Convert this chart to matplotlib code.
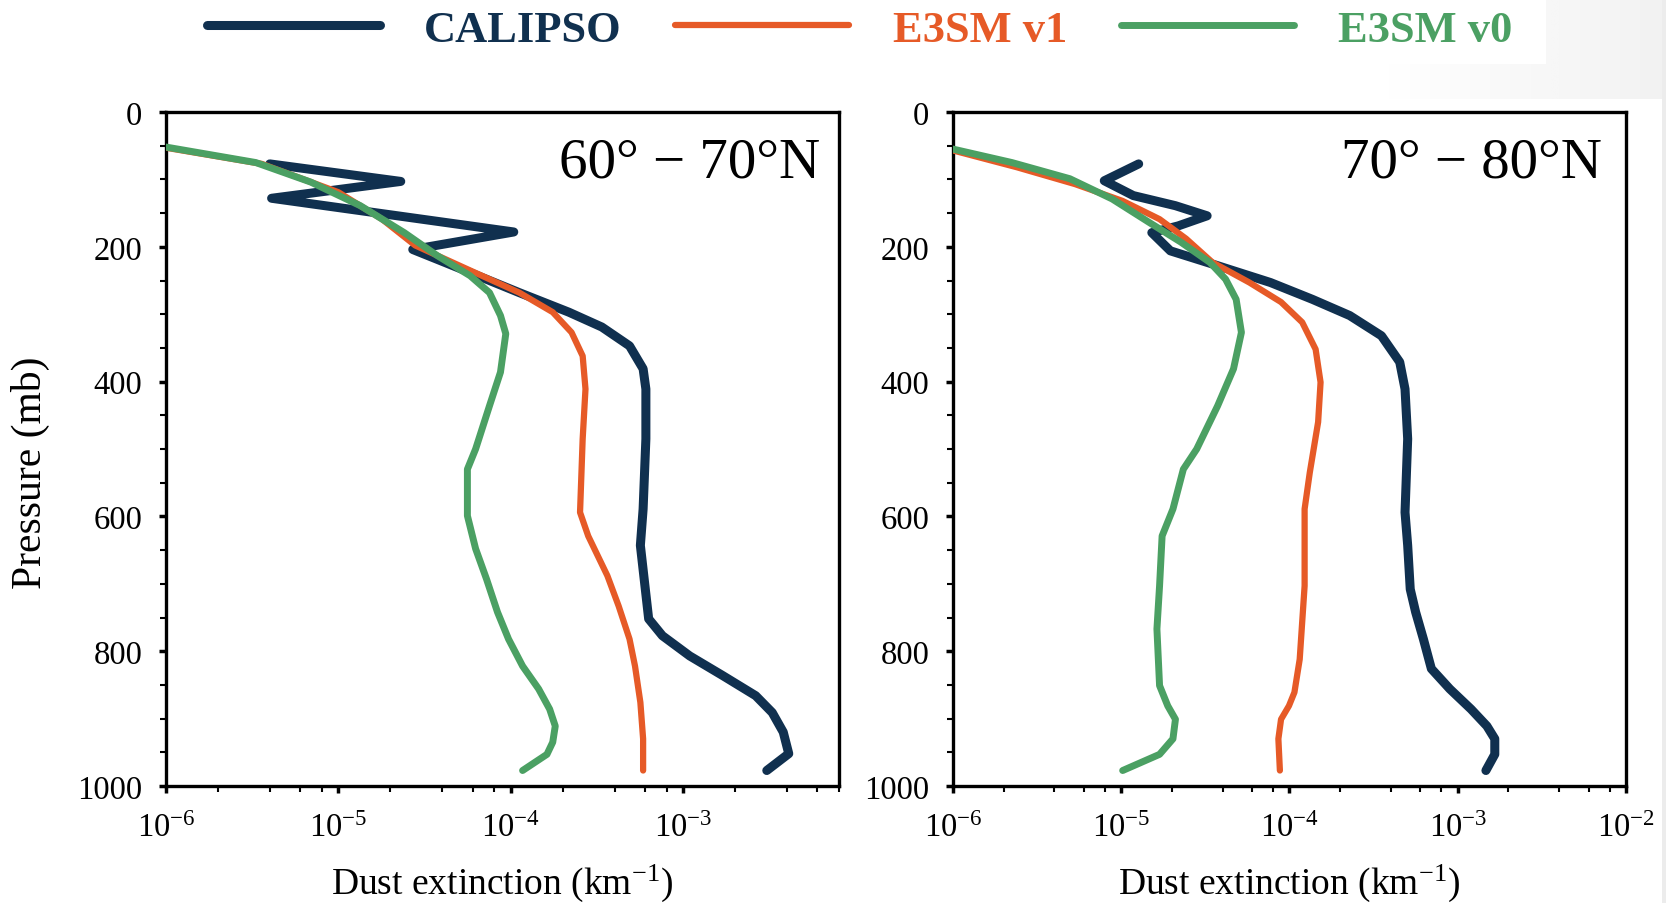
import numpy as np
import matplotlib
matplotlib.use("Agg")
import matplotlib.pyplot as plt
from matplotlib.ticker import LogLocator, MultipleLocator
from matplotlib.patches import Rectangle

plt.rcParams['font.family'] = ['Liberation Serif', 'DejaVu Serif']
plt.rcParams['mathtext.fontset'] = 'custom'
plt.rcParams['mathtext.rm'] = 'Liberation Serif'
plt.rcParams['mathtext.it'] = 'Liberation Serif:italic'
plt.rcParams['mathtext.bf'] = 'Liberation Serif:bold'

# colours
c_cal = '#10304f'
c_v1 = '#e65a27'
c_v0 = '#4ba063'

# ---- 60-70N ----
p_cal_a = [77, 103, 128, 178, 204, 235, 268, 297, 319, 347, 381, 411, 485, 589,
           643, 752, 777, 807, 836, 866, 891, 920, 952, 977]
ext_cal_a = [4.0e-6, 2.3e-5, 4.1e-6, 1.04e-4, 2.7e-5, 5.4e-5, 1.12e-4, 2.17e-4,
             3.37e-4, 4.88e-4, 5.85e-4, 6.07e-4, 6.07e-4, 5.85e-4, 5.64e-4,
             6.30e-4, 7.57e-4, 1.09e-3, 1.69e-3, 2.63e-3, 3.28e-3, 3.80e-3,
             4.09e-3, 3.05e-3]

p_v1_a = [53, 77, 119, 159, 198, 235, 268, 297, 327, 362, 411, 485, 594, 629,
          688, 733, 782, 822, 876, 930, 977]
ext_v1_a = [1.0e-6, 3.6e-6, 1.0e-5, 1.79e-5, 2.79e-5, 5.8e-5, 1.12e-4, 1.75e-4,
            2.25e-4, 2.61e-4, 2.71e-4, 2.61e-4, 2.52e-4, 2.81e-4, 3.63e-4,
            4.22e-4, 4.88e-4, 5.25e-4, 5.64e-4, 5.85e-4, 5.85e-4]

p_v0_a = [52, 75, 104, 139, 179, 213, 243, 268, 302, 329, 386, 436, 500, 530,
          599, 648, 693, 742, 782, 822, 856, 886, 911, 935, 953, 977]
ext_v0_a = [1.0e-6, 3.32e-6, 6.92e-6, 1.34e-5, 2.41e-5, 3.74e-5, 5.81e-5,
            7.52e-5, 8.71e-5, 9.35e-5, 8.71e-5, 7.52e-5, 6.25e-5, 5.60e-5,
            5.60e-5, 6.25e-5, 7.23e-5, 8.37e-5, 9.70e-5, 1.17e-4, 1.45e-4,
            1.68e-4, 1.81e-4, 1.75e-4, 1.62e-4, 1.17e-4]

# ---- 70-80N ----
p_cal_b = [77, 102, 124, 139, 154, 169, 179, 206, 228, 253, 278, 302, 332, 371,
           411, 485, 594, 643, 708, 742, 782, 826, 856, 886, 911, 930, 953, 977]
ext_cal_b = [1.27e-5, 7.93e-6, 1.18e-5, 2.10e-5, 3.24e-5, 2.18e-5, 1.52e-5,
             1.96e-5, 3.74e-5, 7.71e-5, 1.37e-4, 2.28e-4, 3.52e-4, 4.52e-4,
             4.86e-4, 5.04e-4, 4.86e-4, 5.04e-4, 5.22e-4, 5.62e-4, 6.25e-4,
             6.97e-4, 8.97e-4, 1.20e-3, 1.49e-3, 1.66e-3, 1.66e-3, 1.47e-3]

p_v1_b = [57, 82, 107, 132, 159, 188, 223, 253, 282, 312, 352, 401, 460, 535,
          589, 643, 703, 812, 861, 881, 901, 930, 977]
ext_v1_b = [1.0e-6, 2.40e-6, 5.32e-6, 1.02e-5, 1.69e-5, 2.43e-5, 3.48e-5,
            5.78e-5, 8.91e-5, 1.19e-4, 1.43e-4, 1.53e-4, 1.48e-4, 1.32e-4,
            1.23e-4, 1.23e-4, 1.23e-4, 1.15e-4, 1.07e-4, 9.93e-5, 8.91e-5,
            8.59e-5, 8.77e-5]

p_v0_b = [55, 75, 99, 129, 164, 193, 223, 248, 278, 327, 381, 436, 500, 530,
          589, 629, 703, 767, 851, 881, 901, 930, 953, 977]
ext_v0_b = [1.0e-6, 2.24e-6, 4.95e-6, 8.83e-6, 1.47e-5, 2.26e-5, 3.36e-5,
            4.17e-5, 4.82e-5, 5.18e-5, 4.65e-5, 3.74e-5, 2.81e-5, 2.34e-5,
            2.03e-5, 1.75e-5, 1.69e-5, 1.63e-5, 1.69e-5, 1.89e-5, 2.10e-5,
            2.03e-5, 1.69e-5, 1.02e-5]

panel_labels = ['60° − 70°N', '70° − 80°N']
series_names = ['CALIPSO', 'E3SM v1', 'E3SM v0']

fig = plt.figure(figsize=(16.66, 9.04), dpi=100)

# faint grey background at the right edge (scan shadow)
bg = fig.add_axes([0, 0, 1, 1], zorder=-10)
bg.set_xlim(0, 1666)
bg.set_ylim(904, 0)
bg.axis('off')
grad = np.linspace(0, 1, 200)[None, :]
bg.imshow(grad, extent=[1380, 1666, 100, 0], cmap='Greys', vmin=0, vmax=9,
          aspect='auto')
bg.add_patch(Rectangle((1662, 0), 4, 904, color='#ececec', lw=0))
bg.add_patch(Rectangle((0, 0), 1546, 65, color='white', lw=0))

ax1 = fig.add_axes([0.0996, 0.1294, 0.4040, 0.7456])
ax2 = fig.add_axes([0.5720, 0.1294, 0.4040, 0.7456])

data = [
    (ax1, (p_cal_a, ext_cal_a), (p_v1_a, ext_v1_a), (p_v0_a, ext_v0_a), (1e-6, 8e-3), 0.972),
    (ax2, (p_cal_b, ext_cal_b), (p_v1_b, ext_v1_b), (p_v0_b, ext_v0_b), (1e-6, 1e-2), 0.964),
]

for i, (ax, cal, v1, v0, xl, tx) in enumerate(data):
    l_cal, = ax.plot(cal[1], cal[0], color=c_cal, lw=6.5, solid_capstyle='round',
                     solid_joinstyle='round', label=series_names[0], zorder=3)
    l_v1, = ax.plot(v1[1], v1[0], color=c_v1, lw=4.5, solid_capstyle='round',
                    solid_joinstyle='round', label=series_names[1], zorder=4)
    l_v0, = ax.plot(v0[1], v0[0], color=c_v0, lw=5, solid_capstyle='round',
                    solid_joinstyle='round', label=series_names[2], zorder=5)
    ax.set_xscale('log')
    ax.set_xlim(*xl)
    ax.set_ylim(1000, 0)
    ax.xaxis.set_major_locator(LogLocator(base=10, numticks=10))
    ax.xaxis.set_minor_locator(LogLocator(base=10, subs=[2, 4, 6, 8], numticks=10))
    ax.yaxis.set_major_locator(MultipleLocator(200))
    ax.yaxis.set_minor_locator(MultipleLocator(50))
    ax.tick_params(which='major', direction='out', length=5, width=2.5,
                   labelsize=23.5, pad=12)
    ax.tick_params(which='minor', direction='out', length=4, width=1.5)
    ax.tick_params(axis='x', which='major', pad=14)
    for s in ax.spines.values():
        s.set_linewidth(2.4)
    ax.set_xlabel('Dust extinction (km$^{-1}$)', fontsize=27)
    ax.xaxis.set_label_coords(0.5, -0.112)
    ax.xaxis.label.set_va('top')
    ax.text(tx, 0.963, panel_labels[i], transform=ax.transAxes, ha='right',
            va='top', fontsize=41)
    if i == 0:
        handles = [l_cal, l_v1, l_v0]

ax1.set_ylabel('Pressure (mb)', fontsize=30)
ax1.yaxis.set_label_coords(-0.172, 0.467)

leg = fig.legend(handles=handles, labels=series_names, loc='center',
                 bbox_to_anchor=(0.516, 0.966), ncol=3, frameon=False,
                 handlelength=3.9, handletextpad=1.0, columnspacing=1.2,
                 labelcolor='linecolor',
                 prop={'family': 'Liberation Serif', 'weight': 'bold', 'size': 32})

fig.savefig('out.png', dpi=100)
